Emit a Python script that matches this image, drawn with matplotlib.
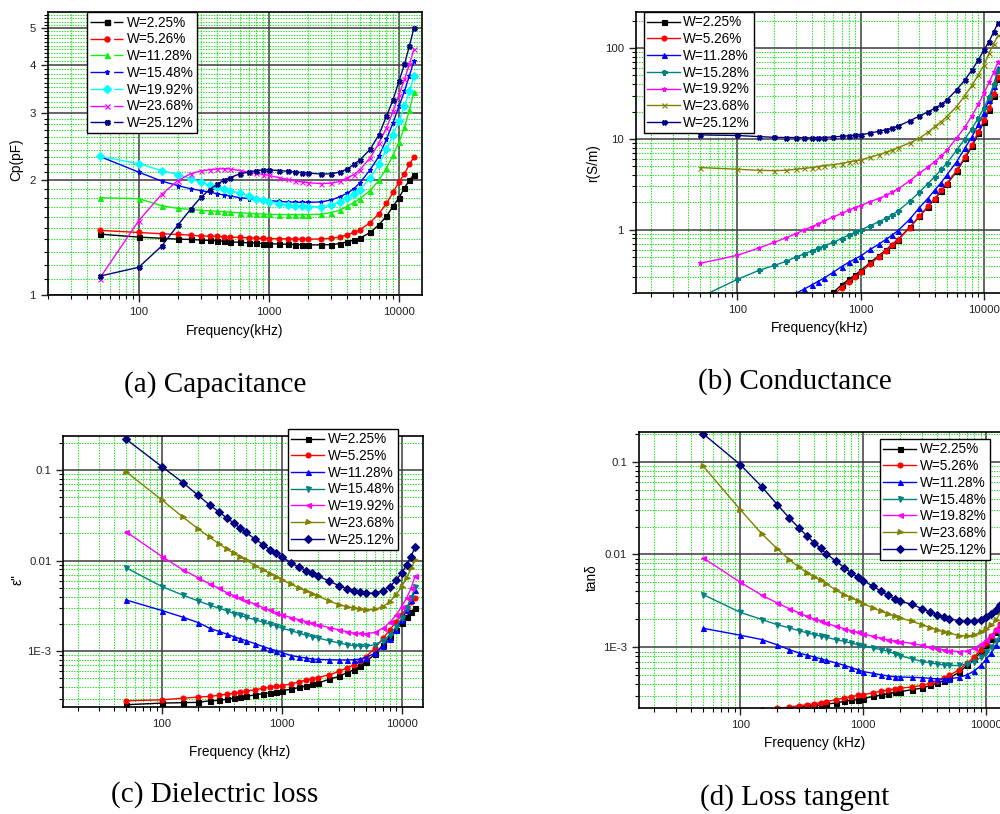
import numpy as np
import matplotlib

matplotlib.use('Agg')
import matplotlib.pyplot as plt
from matplotlib.lines import Line2D
from matplotlib.ticker import FixedLocator, LogLocator, NullFormatter

plt.rcParams['font.family'] = ['Liberation Sans', 'DejaVu Sans']

# frequency points (kHz)
freq = [50, 100, 150, 200, 250, 300, 350, 400, 450, 500, 600, 700, 800, 900, 1000,
        1200, 1400, 1600, 1800, 2000, 2500, 3000, 3500, 4000, 4500, 5000,
        6000, 7000, 8000, 9000, 10000, 11000, 12000, 13000]

# (a) capacitance Cp (pF)
labels_a = ['W=2.25%', 'W=5.26%', 'W=11.28%', 'W=15.48%', 'W=19.92%', 'W=23.68%', 'W=25.12%']
cp_225 = [1.446, 1.42, 1.41, 1.403, 1.40, 1.395, 1.392, 1.39, 1.385, 1.38, 1.376, 1.372, 1.369, 1.366, 1.364,
          1.362, 1.36, 1.358, 1.356, 1.355, 1.355, 1.357, 1.365, 1.38, 1.395, 1.41,
          1.46, 1.53, 1.61, 1.71, 1.80, 1.91, 2.0, 2.07]
cp_526 = [1.479, 1.46, 1.449, 1.443, 1.437, 1.43, 1.428, 1.426, 1.423, 1.42, 1.417, 1.414, 1.411, 1.409, 1.408,
          1.406, 1.405, 1.404, 1.403, 1.403, 1.404, 1.41, 1.42, 1.44, 1.46, 1.484,
          1.55, 1.635, 1.74, 1.86, 1.98, 2.08, 2.2, 2.3]
cp_1128 = [1.80, 1.79, 1.716, 1.688, 1.678, 1.668, 1.663, 1.66, 1.655, 1.65, 1.644, 1.638, 1.634, 1.631, 1.628,
           1.627, 1.626, 1.626, 1.626, 1.626, 1.63, 1.645, 1.67, 1.71, 1.75, 1.79,
           1.88, 2.0, 2.15, 2.33, 2.52, 2.75, 3.05, 3.4]
cp_1548 = [2.31, 2.10, 1.99, 1.936, 1.90, 1.88, 1.86, 1.845, 1.83, 1.82, 1.80, 1.79, 1.783, 1.776, 1.77,
           1.76, 1.755, 1.752, 1.75, 1.75, 1.755, 1.775, 1.81, 1.85, 1.90, 1.97,
           2.13, 2.31, 2.56, 2.83, 3.13, 3.42, 3.75, 4.1]
cp_1992 = [2.31, 2.21, 2.12, 2.07, 2.02, 1.976, 1.94, 1.92, 1.90, 1.88, 1.85, 1.82, 1.79, 1.776, 1.758,
           1.735, 1.722, 1.715, 1.71, 1.706, 1.705, 1.72, 1.755, 1.80, 1.84, 1.89,
           2.03, 2.20, 2.41, 2.63, 2.86, 3.13, 3.42, 3.75]
cp_2368 = [1.106, 1.567, 1.837, 1.995, 2.08, 2.116, 2.13, 2.14, 2.145, 2.14, 2.12, 2.10, 2.087, 2.07, 2.06,
           2.03, 2.01, 1.99, 1.98, 1.97, 1.96, 1.965, 1.985, 2.03, 2.07, 2.13,
           2.29, 2.50, 2.74, 3.03, 3.35, 3.67, 4.02, 4.4]
cp_2512 = [1.122, 1.184, 1.345, 1.526, 1.679, 1.804, 1.89, 1.952, 2.0, 2.03, 2.08, 2.10, 2.12, 2.128, 2.128,
           2.12, 2.11, 2.10, 2.095, 2.09, 2.075, 2.08, 2.1, 2.14, 2.2, 2.26,
           2.41, 2.63, 2.94, 3.25, 3.64, 4.02, 4.49, 5.0]

# (b) conductivity r (S/m)
labels_b = ['W=2.25%', 'W=5.26%', 'W=11.28%', 'W=15.28%', 'W=19.92%', 'W=23.68%', 'W=25.12%']
r_225 = [0.03, 0.045, 0.06, 0.075, 0.09, 0.105, 0.12, 0.14, 0.155, 0.17, 0.204, 0.245, 0.283, 0.316, 0.353,
         0.435, 0.515, 0.595, 0.685, 0.775, 1.06, 1.4, 1.78, 2.18, 2.65, 3.15,
         4.4, 6.1, 8.3, 11.5, 15.5, 21, 30, 46]
r_526 = [0.028, 0.042, 0.056, 0.07, 0.085, 0.1, 0.115, 0.13, 0.145, 0.16, 0.19, 0.229, 0.267, 0.303, 0.339,
         0.42, 0.5, 0.58, 0.67, 0.76, 1.05, 1.4, 1.8, 2.2, 2.7, 3.2,
         4.5, 6.3, 8.6, 12, 16, 22, 31, 48]
r_1128 = [0.045, 0.08, 0.11, 0.14, 0.165, 0.199, 0.222, 0.245, 0.268, 0.29, 0.339, 0.391, 0.436, 0.475, 0.513,
          0.607, 0.69, 0.78, 0.87, 0.97, 1.3, 1.75, 2.2, 2.74, 3.3, 4.0,
          5.6, 7.9, 10.6, 14.5, 19.5, 27, 38, 60]
r_1528 = [0.18, 0.283, 0.356, 0.404, 0.448, 0.50, 0.54, 0.582, 0.62, 0.66, 0.725, 0.796, 0.873, 0.93, 0.99,
          1.107, 1.22, 1.33, 1.45, 1.6, 2.05, 2.6, 3.2, 3.84, 4.6, 5.4,
          7.5, 10, 13, 17, 22, 29, 40, 57]
r_1992 = [0.425, 0.521, 0.628, 0.725, 0.816, 0.903, 1.0, 1.07, 1.15, 1.235, 1.38, 1.51, 1.63, 1.75, 1.84,
          2.04, 2.2, 2.38, 2.58, 2.8, 3.45, 4.19, 4.9, 5.6, 6.5, 7.5,
          10.2, 13.5, 18, 24, 32, 42, 54, 71]
r_2368 = [4.83, 4.63, 4.5, 4.47, 4.5, 4.63, 4.72, 4.83, 4.95, 5.08, 5.2, 5.35, 5.58, 5.72, 5.86,
          6.3, 6.7, 7.1, 7.5, 8.0, 9.0, 10.2, 11.8, 13.7, 15.5, 17.6,
          22.7, 30, 39, 51, 65, 88, 112, 138]
r_2512 = [11.07, 10.9, 10.6, 10.4, 10.35, 10.35, 10.3, 10.26, 10.3, 10.35, 10.5, 10.65, 10.8, 10.97, 11.07,
          11.6, 12.1, 12.6, 13.1, 13.8, 15.8, 17.9, 19.8, 21.8, 24, 26.9,
          34.7, 44.7, 57.5, 74, 96, 118, 152, 188]

# (c) dielectric loss
labels_c = ['W=2.25%', 'W=5.25%', 'W=11.28%', 'W=15.48%', 'W=19.92%', 'W=23.68%', 'W=25.12%']
eps_225 = [0.000256, 0.000267, 0.00027, 0.000272, 0.000283, 0.000286, 0.000295, 0.000303, 0.00031, 0.000316,
           0.000329, 0.000339, 0.000347, 0.000356, 0.000365, 0.000381, 0.000397, 0.000415, 0.00043, 0.000444,
           0.00049, 0.000526, 0.00058, 0.000623, 0.00069, 0.00075,
           0.000935, 0.00118, 0.00145, 0.00172, 0.00204, 0.00241, 0.00274, 0.00303]
eps_525 = [0.000283, 0.00029, 0.000303, 0.000311, 0.000316, 0.000327, 0.000335, 0.000344, 0.000353, 0.000362,
           0.000375, 0.000389, 0.0004, 0.00041, 0.000415, 0.000436, 0.000459, 0.000479, 0.000495, 0.00051,
           0.00055, 0.000597, 0.00065, 0.000708, 0.00078, 0.00086,
           0.00108, 0.00139, 0.00172, 0.00212, 0.00252, 0.00299, 0.00353, 0.00385]
eps_1128 = [0.00368, 0.00281, 0.00237, 0.00207, 0.00179, 0.00165, 0.00154, 0.00144, 0.00137, 0.00131,
            0.00121, 0.00112, 0.00106, 0.00101, 0.000966, 0.000895, 0.00086, 0.00084, 0.00082, 0.00081,
            0.000805, 0.0008, 0.0008, 0.000804, 0.00082, 0.00085,
            0.00095, 0.00113, 0.00136, 0.00172, 0.00222, 0.00286, 0.00369, 0.00475]
eps_1548 = [0.00837, 0.00516, 0.00415, 0.00359, 0.00322, 0.00298, 0.00278, 0.0026, 0.00248, 0.00237,
            0.00222, 0.00209, 0.00199, 0.0019, 0.00179, 0.00168, 0.00158, 0.0015, 0.00145, 0.0014,
            0.0013, 0.00123, 0.00118, 0.00115, 0.00114, 0.00113,
            0.00118, 0.00131, 0.00152, 0.00187, 0.00232, 0.00299, 0.00385, 0.00516]
eps_1992 = [0.0209, 0.0111, 0.00788, 0.00649, 0.00553, 0.00496, 0.0044, 0.00411, 0.00385, 0.00362,
            0.0033, 0.00303, 0.00283, 0.00267, 0.00252, 0.00235, 0.00222, 0.00212, 0.00203, 0.00196,
            0.00182, 0.00172, 0.00164, 0.00158, 0.00157, 0.00156,
            0.00161, 0.0018, 0.00208, 0.00251, 0.00311, 0.00385, 0.00496, 0.0068]
eps_2368 = [0.096, 0.0467, 0.0301, 0.0225, 0.0181, 0.0153, 0.0133, 0.012, 0.0109, 0.0102,
            0.0088, 0.00788, 0.00719, 0.00667, 0.00612, 0.00548, 0.00495, 0.00462, 0.00432, 0.00405,
            0.00358, 0.00325, 0.0031, 0.00299, 0.00291, 0.00286,
            0.0029, 0.00311, 0.00353, 0.00419, 0.00516, 0.0064, 0.00824, 0.0102]
eps_2512 = [0.22, 0.109, 0.0725, 0.0526, 0.0411, 0.0344, 0.0293, 0.0258, 0.0229, 0.0205,
            0.0173, 0.0149, 0.0131, 0.0121, 0.0111, 0.00935, 0.00844, 0.00776, 0.00725, 0.0068,
            0.0059, 0.0053, 0.0049, 0.00464, 0.0045, 0.00437,
            0.00437, 0.00467, 0.00516, 0.00612, 0.00726, 0.00897, 0.0111, 0.0143]

# (d) loss tangent
labels_d = ['W=2.25%', 'W=5.26%', 'W=11.28%', 'W=15.48%', 'W=19.82%', 'W=23.68%', 'W=25.12%']
tan_225 = [0.00017, 0.00019, 0.0002, 0.00021, 0.00022, 0.000227, 0.000231, 0.000235, 0.00024, 0.000245,
           0.000251, 0.000262, 0.000269, 0.000273, 0.00028, 0.000296, 0.000306, 0.000316, 0.000327, 0.000333,
           0.00035, 0.000363, 0.000388, 0.000411, 0.000438, 0.000466,
           0.00054, 0.000637, 0.000752, 0.000887, 0.00105, 0.00123, 0.00145, 0.0017]
tan_526 = [0.00019, 0.000205, 0.000213, 0.00022, 0.000227, 0.000235, 0.000241, 0.000247, 0.000253, 0.00026,
           0.000273, 0.000285, 0.000293, 0.000304, 0.000309, 0.000323, 0.000338, 0.000346, 0.000357, 0.000362,
           0.000375, 0.000388, 0.00041, 0.000436, 0.000465, 0.000497,
           0.000573, 0.000676, 0.000796, 0.00094, 0.00111, 0.00131, 0.00154, 0.0018]
tan_1128 = [0.0016, 0.00135, 0.00121, 0.00106, 0.000944, 0.000869, 0.00082, 0.000787, 0.00075, 0.000725,
            0.000678, 0.00064, 0.000604, 0.000575, 0.000547, 0.000525, 0.000505, 0.00049, 0.000482, 0.000478,
            0.000475, 0.00047, 0.000463, 0.000458, 0.000456, 0.000458,
            0.000473, 0.000506, 0.000558, 0.000637, 0.000746, 0.000879, 0.00105, 0.00126]
tan_1548 = [0.00369, 0.00238, 0.00199, 0.00175, 0.00162, 0.00151, 0.00143, 0.00137, 0.00132, 0.00128,
            0.00121, 0.00116, 0.00111, 0.00107, 0.00104, 0.000984, 0.00094, 0.000906, 0.00085, 0.00081,
            0.00075, 0.000703, 0.00068, 0.000659, 0.000645, 0.000637,
            0.000637, 0.000659, 0.000703, 0.000777, 0.000887, 0.00102, 0.00117, 0.00137]
tan_1982 = [0.00916, 0.00501, 0.00363, 0.003, 0.00261, 0.00235, 0.00215, 0.00202, 0.00192, 0.00183,
            0.00168, 0.00159, 0.00151, 0.00145, 0.0014, 0.00131, 0.00125, 0.0012, 0.00117, 0.00115,
            0.0011, 0.00105, 0.001, 0.000963, 0.00094, 0.000917,
            0.000901, 0.000917, 0.00098, 0.00108, 0.0012, 0.00135, 0.00155, 0.00178]
tan_2368 = [0.0891, 0.0304, 0.0166, 0.0115, 0.00879, 0.00733, 0.00631, 0.00573, 0.00525, 0.00485,
            0.00411, 0.00369, 0.0034, 0.00318, 0.00295, 0.00265, 0.00244, 0.00229, 0.00216, 0.00207,
            0.0019, 0.00175, 0.00163, 0.00154, 0.00147, 0.00142,
            0.00134, 0.00132, 0.00136, 0.00146, 0.00158, 0.00172, 0.00196, 0.0024]
tan_2512 = [0.199, 0.0928, 0.0533, 0.0344, 0.0247, 0.0193, 0.0157, 0.0133, 0.0116, 0.0102,
            0.00844, 0.00721, 0.00632, 0.00573, 0.00523, 0.00454, 0.00401, 0.00363, 0.00334, 0.00313,
            0.0029, 0.0026, 0.0024, 0.00224, 0.00212, 0.00203,
            0.00193, 0.0019, 0.00192, 0.00198, 0.0021, 0.00228, 0.00254, 0.00287]

colors_a = ['black', '#ff0000', '#11ee11', '#0000ff', '#00ffff', '#ff00ff', '#000080']
markers_a = ['s', 'o', '^', '*', 'D', 'x', 'X']
colors_b = ['black', '#ff0000', '#0000ff', '#008080', '#ff00ff', '#808000', '#000080']
markers_b = ['s', 'o', '^', 'P', '*', 'x', 'X']
colors_cd = ['black', '#ff0000', '#0000ff', '#008080', '#ff00ff', '#808000', '#000080']
markers_cd = ['s', 'o', '^', 'v', '<', '>', 'D']


def style_axes(ax, xlim, ylim, yticks, ylabels, yminor=None):
    ax.set_xscale('log')
    ax.set_yscale('log')
    ax.set_xlim(*xlim)
    ax.set_ylim(*ylim)
    ax.set_xticks([100, 1000, 10000])
    ax.set_xticklabels(['100', '1000', '10000'])
    ax.xaxis.set_minor_locator(LogLocator(base=10, subs=np.arange(2, 10)))
    ax.xaxis.set_minor_formatter(NullFormatter())
    ax.set_yticks(yticks)
    ax.set_yticklabels(ylabels)
    if yminor is None:
        ax.yaxis.set_minor_locator(LogLocator(base=10, subs=np.arange(2, 10)))
    else:
        ax.yaxis.set_minor_locator(FixedLocator(yminor))
    ax.yaxis.set_minor_formatter(NullFormatter())
    ax.grid(True, which='minor', color='#22e022', lw=0.8, ls=(0, (1.2, 1.2)))
    ax.grid(True, which='major', color='#3c3c3c', lw=1.1)
    ax.set_axisbelow(True)
    ax.tick_params(which='major', direction='out', length=5, width=1, labelsize=8.2, colors='#222222')
    ax.tick_params(which='minor', direction='out', length=3, width=0.8)
    for s in ax.spines.values():
        s.set_linewidth(1.2)
        s.set_color('black')


def draw(ax, series, colors, markers, ms=3.6):
    for vals, c, m in zip(series, colors, markers):
        ax.plot(freq, vals, color=c, marker=m, ms=ms, lw=1.0, mec=c, mew=0.8)


fig = plt.figure(figsize=(10, 8.14), dpi=100)

leg_kw = dict(fontsize=9.8, handlelength=2.4, handletextpad=0.25, labelspacing=0.2, borderpad=0.25,
              fancybox=False, framealpha=1, edgecolor='black', numpoints=1, borderaxespad=0)

# (a) Capacitance
ax1 = fig.add_axes([0.0477, 0.6372, 0.3743, 0.3477])
cp_series = [cp_225, cp_526, cp_1128, cp_1548, cp_1992, cp_2368, cp_2512]
draw(ax1, cp_series, colors_a, markers_a)
cp_minor = [v / 10 for v in range(11, 55) if v % 10 != 0]
style_axes(ax1, (20, 15000), (1, 5.5), [1, 2, 3, 4, 5], ['1', '2', '3', '4', '5'], cp_minor)
handles_a = [Line2D([], [], color=c, marker=m, ms=3.6, lw=1.0, ls=(0, (11, 6)))
             for c, m in zip(colors_a, markers_a)]
leg = ax1.legend(handles_a, labels_a, loc='upper left', bbox_to_anchor=(0.105, 1.0), **leg_kw)
leg.get_frame().set_linewidth(1.0)
ax1.set_xlabel('Frequency(kHz)', fontsize=9.8)
ax1.set_ylabel('Cp(pF)', fontsize=9.8)
ax1.xaxis.set_label_coords(0.50, -0.10)
ax1.yaxis.set_label_coords(-0.065, 0.478)

# (b) Conductance
ax2 = fig.add_axes([0.6357, 0.6400, 0.370, 0.3452])
r_series = [r_225, r_526, r_1128, r_1528, r_1992, r_2368, r_2512]
draw(ax2, r_series, colors_b, markers_b)
style_axes(ax2, (15, 15000), (0.2, 250), [1, 10, 100], ['1', '10', '100'])
leg = ax2.legend(labels_b, loc='upper left', bbox_to_anchor=(0.022, 1.0), **leg_kw)
leg.get_frame().set_linewidth(1.0)
ax2.set_xlabel('Frequency(kHz)', fontsize=9.8)
ax2.set_ylabel('r(S/m)', fontsize=9.8)
ax2.xaxis.set_label_coords(0.498, -0.10)
ax2.yaxis.set_label_coords(-0.096, 0.463)

# (c) Dielectric loss
ax3 = fig.add_axes([0.0633, 0.1311, 0.3594, 0.3337])
eps_series = [eps_225, eps_525, eps_1128, eps_1548, eps_1992, eps_2368, eps_2512]
draw(ax3, eps_series, colors_cd, markers_cd)
style_axes(ax3, (15, 15000), (2.4e-4, 0.24), [0.001, 0.01, 0.1], ['1E-3', '0.01', '0.1'])
leg = ax3.legend(labels_c, loc='upper right', bbox_to_anchor=(0.931, 1.025), **leg_kw)
leg.get_frame().set_linewidth(1.0)
ax3.set_xlabel('Frequency (kHz)', fontsize=9.8)
ax3.set_ylabel('ε"', fontsize=9.8)
ax3.xaxis.set_label_coords(0.49, -0.139)
ax3.yaxis.set_label_coords(-0.107, 0.469)

# (d) Loss tangent
ax4 = fig.add_axes([0.639, 0.1298, 0.369, 0.3398])
tan_series = [tan_225, tan_526, tan_1128, tan_1548, tan_1982, tan_2368, tan_2512]
draw(ax4, tan_series, colors_cd, markers_cd)
style_axes(ax4, (15, 15000), (2.2e-4, 0.21), [0.001, 0.01, 0.1], ['1E-3', '0.01', '0.1'])
leg = ax4.legend(labels_d, loc='upper right', bbox_to_anchor=(0.951, 0.974), **leg_kw)
leg.get_frame().set_linewidth(1.0)
ax4.set_xlabel('Frequency (kHz)', fontsize=9.8)
ax4.set_ylabel('tanδ', fontsize=9.8)
ax4.xaxis.set_label_coords(0.477, -0.10)
ax4.yaxis.set_label_coords(-0.108, 0.471)

# captions
cap_kw = dict(family=['Liberation Serif', 'DejaVu Serif'], fontsize=21, ha='center', va='center')
fig.text(0.215, 1 - 385 / 814, '(a) Capacitance', **cap_kw)
fig.text(0.795, 1 - 382 / 814, '(b) Conductance', **cap_kw)
fig.text(0.215, 1 - 795 / 814, '(c) Dielectric loss', **cap_kw)
fig.text(0.795, 1 - 798 / 814, '(d) Loss tangent', **cap_kw)

fig.savefig('out.png', dpi=100)
